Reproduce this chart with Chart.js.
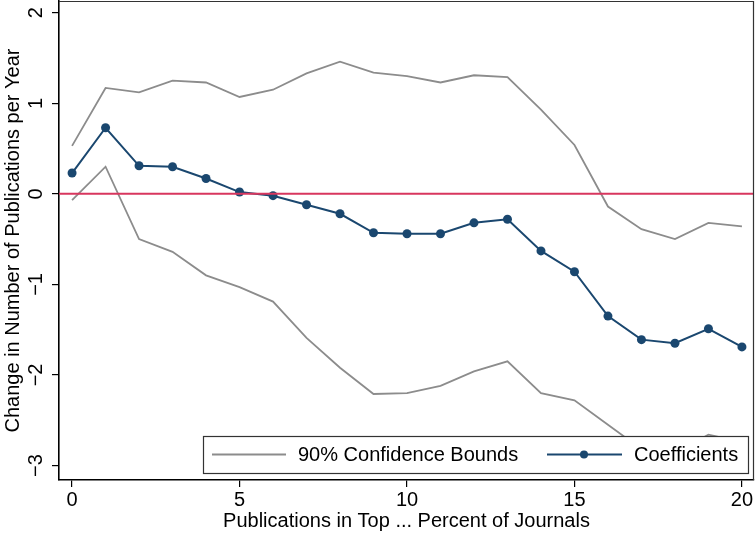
<!DOCTYPE html>
<html>
<head>
<meta charset="utf-8">
<title>Coefficients by journal cutoff</title>
<script src="https://cdn.jsdelivr.net/npm/chart.js@4/dist/chart.umd.min.js"></script>
<style>
  html, body { margin: 0; padding: 0; background: #fff; }
  canvas { display: block; }
</style>
</head>
<body>
<canvas id="chart" width="755" height="533"></canvas>
<script>
// top ... percent of journals (x axis)
const pcts = [0, 1, 2, 3, 4, 5, 6, 7, 8, 9, 10, 11, 12, 13, 14, 15, 16, 17, 18, 19, 20];

// point estimates
const coefs = [0.23, 0.73, 0.31, 0.30, 0.17, 0.02, -0.02, -0.12, -0.22, -0.43, -0.44,
               -0.44, -0.32, -0.28, -0.63, -0.86, -1.35, -1.61, -1.65, -1.49, -1.69];

// 90% confidence bounds
const upper = [0.53, 1.17, 1.12, 1.25, 1.23, 1.07, 1.15, 1.33, 1.46, 1.34, 1.30,
               1.23, 1.31, 1.29, 0.93, 0.54, -0.14, -0.39, -0.50, -0.32, -0.36];
const lower = [-0.07, 0.30, -0.50, -0.64, -0.90, -1.03, -1.19, -1.59, -1.92, -2.21, -2.20,
               -2.12, -1.96, -1.85, -2.20, -2.28, -2.55, -2.82, -2.86, -2.66, -2.74];

const xTicks = [0, 5, 10, 15, 20];
const yTicks = [-3, -2, -1, 0, 1, 2];
const xRange = [-0.39, 20.36];
const yRange = [-3.16, 2.13];

const GRAY = "#8c8c8c";
const NAVY = "#1a476f";
const RED = "#d8365e";
const FONT = "'Liberation Sans', Arial, sans-serif";
const FS = 20;

const pts = ys => pcts.map((x, i) => ({ x: x, y: ys[i] }));
const minus = v => String(v).replace("-", "\u2212");

// frame around the plot region + rotated y labels (Stata style)
const frame = {
  id: "frame",
  afterDraw(chart) {
    const { ctx, chartArea: a, scales } = chart;
    ctx.save();
    ctx.strokeStyle = "#333";
    ctx.lineWidth = 1.2;
    ctx.beginPath();
    ctx.moveTo(a.left, a.top + 0.5);
    ctx.lineTo(a.right - 0.5, a.top + 0.5);
    ctx.lineTo(a.right - 0.5, a.bottom);
    ctx.stroke();

    ctx.fillStyle = "#000";
    ctx.font = FS + "px " + FONT;
    ctx.textAlign = "center";
    ctx.textBaseline = "middle";
    scales.y.ticks.forEach(t => {
      const y = scales.y.getPixelForValue(t.value);
      ctx.save();
      ctx.translate(36, y);
      ctx.rotate(-Math.PI / 2);
      ctx.fillText(minus(t.value), 0, 0);
      ctx.restore();
    });
    ctx.restore();
  }
};

// legend box inside the plot, drawn over the lines
const boxLegend = {
  id: "boxLegend",
  afterDatasetsDraw(chart) {
    const ctx = chart.ctx;
    const bx = 203, by = 436, bw = 545, bh = 37, my = by + bh / 2;
    ctx.save();
    ctx.fillStyle = "#fff";
    ctx.fillRect(bx, by, bw, bh);
    ctx.strokeStyle = "#333";
    ctx.lineWidth = 1.2;
    ctx.strokeRect(bx + 0.5, by + 0.5, bw, bh);

    ctx.lineWidth = 1.8;
    ctx.strokeStyle = GRAY;
    ctx.beginPath(); ctx.moveTo(212, my); ctx.lineTo(286, my); ctx.stroke();

    ctx.strokeStyle = NAVY;
    ctx.lineWidth = 2;
    ctx.beginPath(); ctx.moveTo(547, my); ctx.lineTo(622, my); ctx.stroke();
    ctx.fillStyle = NAVY;
    ctx.beginPath(); ctx.arc(584, my, 4, 0, Math.PI * 2); ctx.fill();

    ctx.fillStyle = "#000";
    ctx.font = FS + "px " + FONT;
    ctx.textBaseline = "middle";
    ctx.fillText(chart.data.datasets[1].label, 298, my + 1);
    ctx.fillText(chart.data.datasets[3].label, 634, my + 1);
    ctx.restore();
  }
};

new Chart(document.getElementById("chart"), {
  type: "line",
  data: {
    datasets: [
      {
        label: "zero",
        data: [{ x: xRange[0], y: 0 }, { x: xRange[1], y: 0 }],
        borderColor: RED, borderWidth: 2, pointRadius: 0
      },
      {
        label: "90% Confidence Bounds",
        data: pts(upper),
        borderColor: GRAY, borderWidth: 1.8, pointRadius: 0
      },
      {
        label: "lower",
        data: pts(lower),
        borderColor: GRAY, borderWidth: 1.8, pointRadius: 0
      },
      {
        label: "Coefficients",
        data: pts(coefs),
        borderColor: NAVY, backgroundColor: NAVY, borderWidth: 2,
        pointRadius: 4.5, pointBorderWidth: 0
      }
    ]
  },
  options: {
    responsive: false,
    animation: false,
    layout: { autoPadding: false, padding: { top: 1, right: 1, left: 0, bottom: 0 } },
    plugins: { legend: { display: false }, tooltip: { enabled: false } },
    scales: {
      x: {
        type: "linear",
        min: xRange[0], max: xRange[1],
        afterBuildTicks: s => { s.ticks = xTicks.map(v => ({ value: v })); },
        afterFit: s => { s.height = 53; },
        grid: { drawOnChartArea: false, drawTicks: true, tickLength: 7, color: "#000", lineWidth: 1.2 },
        border: { display: true, color: "#000", width: 1.6 },
        ticks: { color: "#000", font: { family: FONT, size: FS }, padding: 1, maxRotation: 0 },
        title: {
          display: true, text: "Publications in Top ... Percent of Journals",
          color: "#000", font: { family: FONT, size: FS }, padding: { top: 0, bottom: 0 }
        }
      },
      y: {
        min: yRange[0], max: yRange[1],
        afterBuildTicks: s => { s.ticks = yTicks.map(v => ({ value: v })); },
        afterFit: s => { s.width = 59; },
        grid: { drawOnChartArea: false, drawTicks: true, tickLength: 7, color: "#000", lineWidth: 1.2 },
        border: { display: true, color: "#000", width: 1.6 },
        ticks: { display: false },
        title: {
          display: true, text: "Change in Number of Publications per Year",
          color: "#000", font: { family: FONT, size: FS }, padding: { top: 1, bottom: 0 }
        }
      }
    }
  },
  plugins: [frame, boxLegend]
});
</script>
</body>
</html>
